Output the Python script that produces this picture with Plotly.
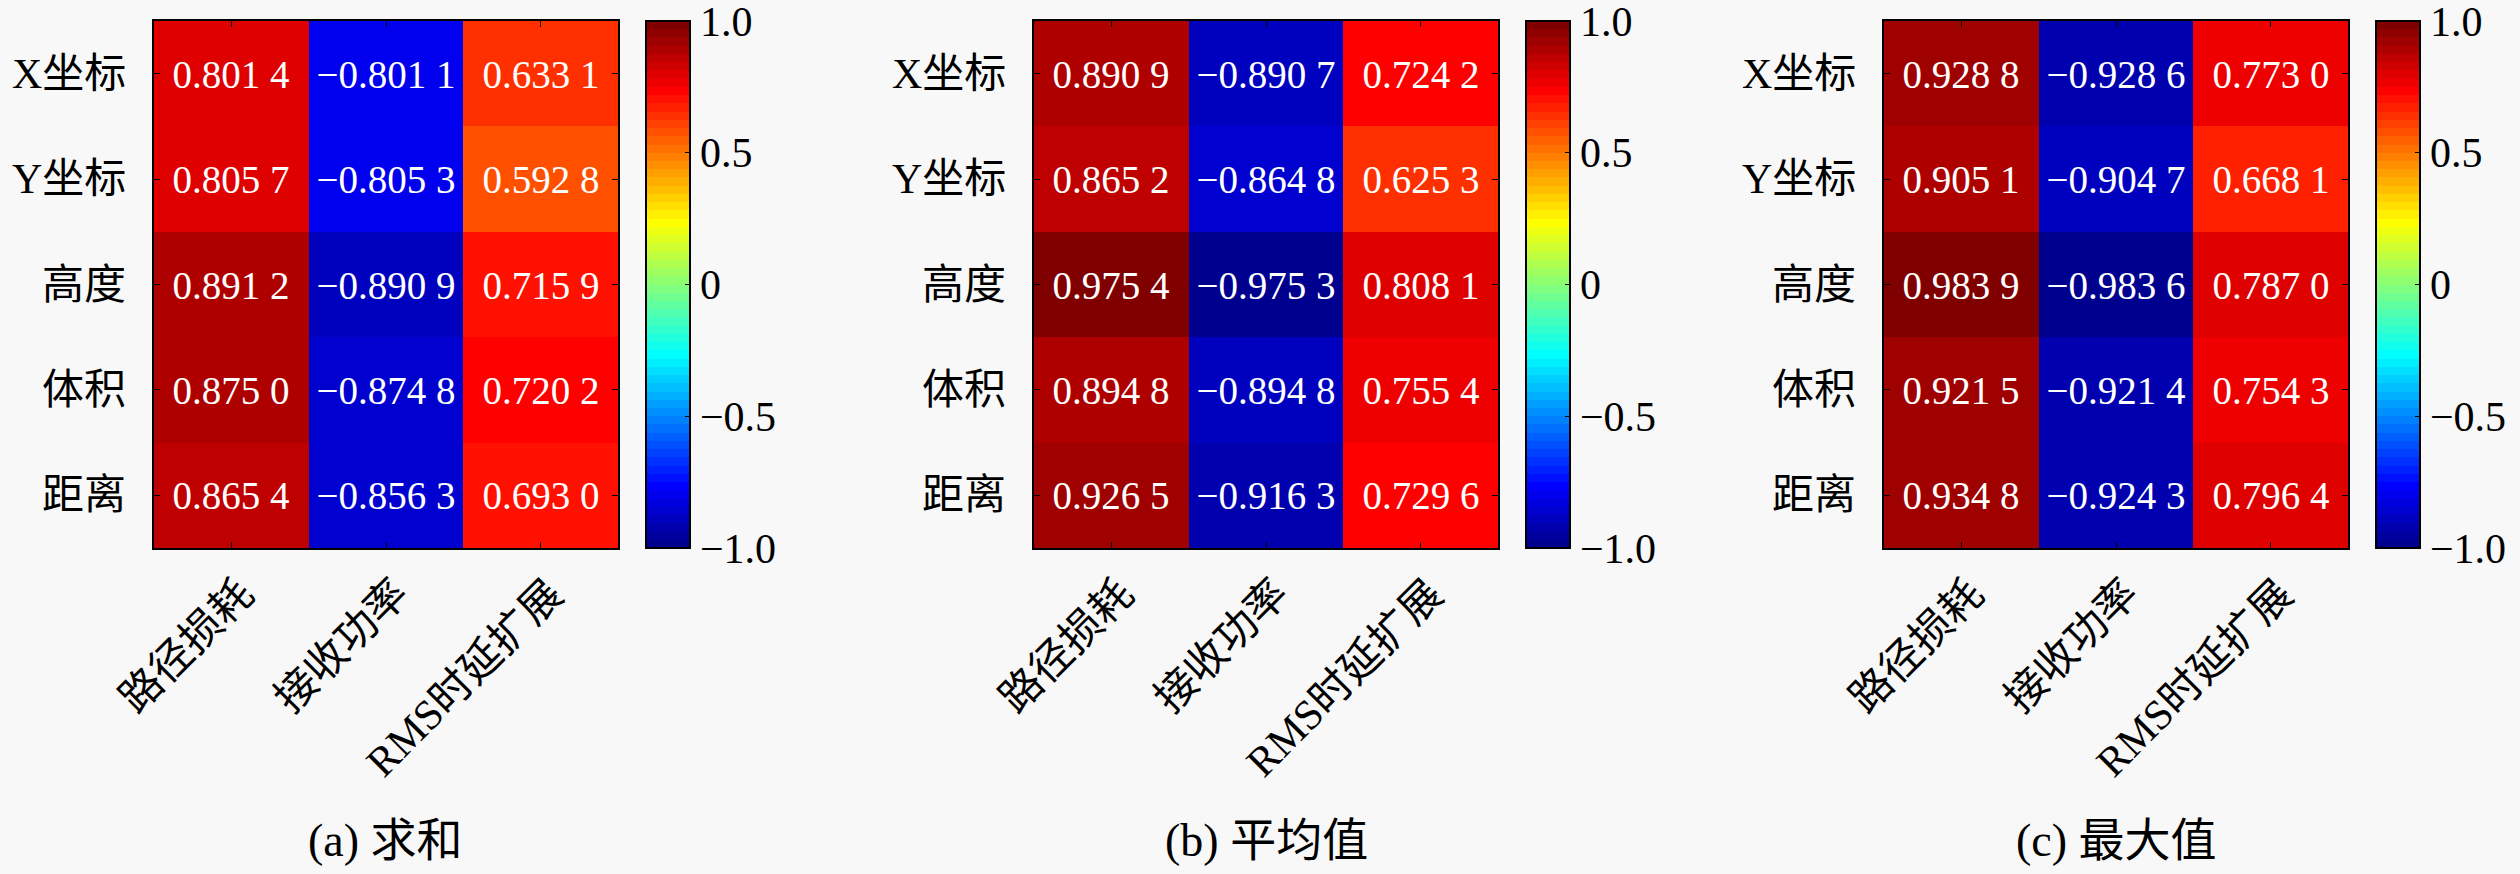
import math
import plotly.graph_objects as go
from plotly.subplots import make_subplots

rows = ["X坐标", "Y坐标", "高度", "体积", "距离"]
cols = ["路径损耗", "接收功率", "RMS时延扩展"]

sum_vals = [
    [0.8014, -0.8011, 0.6331],
    [0.8057, -0.8053, 0.5928],
    [0.8912, -0.8909, 0.7159],
    [0.8750, -0.8748, 0.7202],
    [0.8654, -0.8563, 0.6930],
]
mean_vals = [
    [0.8909, -0.8907, 0.7242],
    [0.8652, -0.8648, 0.6253],
    [0.9754, -0.9753, 0.8081],
    [0.8948, -0.8948, 0.7554],
    [0.9265, -0.9163, 0.7296],
]
max_vals = [
    [0.9288, -0.9286, 0.7730],
    [0.9051, -0.9047, 0.6681],
    [0.9839, -0.9836, 0.7870],
    [0.9215, -0.9214, 0.7543],
    [0.9348, -0.9243, 0.7964],
]
subtitles = ["(a) 求和", "(b) 平均值", "(c) 最大值"]

cbar_vals = [1.0, 0.5, 0, -0.5, -1.0]
cbar_text = ["1.0", "0.5", "0", "\u22120.5", "\u22121.0"]


def jet(m=64):
    # matlab style jet(m)
    n = math.ceil(m / 4)
    u = [i / n for i in range(1, n + 1)] + [1.0] * (n - 1) + [i / n for i in range(n, 0, -1)]
    g0 = math.ceil(n / 2) - (1 if m % 4 == 1 else 0)
    cmap = [[0.0, 0.0, 0.0] for _ in range(m)]
    for k in range(len(u)):
        g = g0 + k + 1
        for ch, idx in ((0, g + n), (1, g), (2, g - n)):
            if 1 <= idx <= m:
                cmap[idx - 1][ch] = u[k]
    return cmap


def stepped_scale(cmap):
    m = len(cmap)
    scale = []
    for i, c in enumerate(cmap):
        col = "rgb(%d,%d,%d)" % tuple(round(v * 255) for v in c)
        scale.append([i / m, col])
        scale.append([(i + 1) / m, col])
    return scale


def fmt(v):
    s = "%.4f" % abs(v)
    s = s[:-1] + " " + s[-1]
    return ("\u2212" + s) if v < 0 else s


serif = "Liberation Serif, DejaVu Serif, Noto Sans CJK SC, serif"
colorscale = stepped_scale(jet(64))

W, H = 2520, 874
heat_left = [154, 1034, 1884]
heat_w = 464
top_px, bot_px = 21, 548
cbar_gap = 28

fig = make_subplots(rows=1, cols=3)

for i, vals in enumerate([sum_vals, mean_vals, max_vals]):
    x0 = heat_left[i] / W
    x1 = (heat_left[i] + heat_w) / W
    fig.add_trace(go.Heatmap(
        z=vals, x=cols, y=rows,
        text=[[fmt(v) for v in r] for r in vals],
        texttemplate="%{text}",
        textfont=dict(family=serif, size=39, color="white"),
        colorscale=colorscale, zmin=-1, zmax=1,
        colorbar=dict(
            x=(heat_left[i] + heat_w + cbar_gap) / W, xanchor="left", xpad=0,
            y=1 - bot_px / H, yanchor="bottom", ypad=0,
            len=(bot_px - top_px) / H, lenmode="fraction",
            thickness=44, outlinewidth=2, outlinecolor="black",
            tickvals=cbar_vals, ticktext=cbar_text, ticklabeloverflow="allow",
            ticks="inside", ticklen=6, tickcolor="black",
            tickfont=dict(family=serif, size=42, color="black"),
        ),
    ), row=1, col=i + 1)

    ax = "" if i == 0 else str(i + 1)
    fig.layout["xaxis" + ax].update(
        domain=[x0, x1], type="category", categoryorder="array", categoryarray=cols,
        range=[-0.5, len(cols) - 0.5],
        showline=True, linecolor="black", linewidth=2, mirror="ticks",
        ticks="inside", ticklen=6, tickcolor="black", showticklabels=False,
        automargin=False,
    )
    fig.layout["yaxis" + ax].update(
        domain=[1 - bot_px / H, 1 - top_px / H], type="category",
        categoryorder="array", categoryarray=rows, range=[len(rows) - 0.5, -0.5],
        showline=True, linecolor="black", linewidth=2, mirror="ticks",
        ticks="inside", ticklen=6, tickcolor="black", showticklabels=False,
        automargin=False,
    )
    # row labels left of the frame
    for k, r in enumerate(rows):
        fig.add_annotation(
            text=r, x=x0, xref="paper", y=k, yref="y" + ax,
            xanchor="right", yanchor="middle", xshift=-26, showarrow=False,
            font=dict(family=serif, size=42, color="black"),
        )
    # rotated column labels, right end sitting at the tick
    for j, c in enumerate(cols):
        fig.add_annotation(
            text=c, x=j, xref="x" + ax, y=1 - bot_px / H, yref="paper",
            textangle=-45, xanchor="right", yanchor="top",
            xshift=34, yshift=-20, showarrow=False,
            font=dict(family=serif, size=42, color="black"),
        )
    fig.add_annotation(
        text=subtitles[i], x=(x0 + x1) / 2, y=1 - 840 / H, xref="paper", yref="paper",
        showarrow=False, xanchor="center", yanchor="middle",
        font=dict(family=serif, size=46, color="black"),
    )

fig.update_layout(
    width=W, height=H,
    margin=dict(l=0, r=0, t=0, b=0),
    paper_bgcolor="#f8f8f8", plot_bgcolor="#f8f8f8",
    showlegend=False,
)

fig.write_html("out.html", config={"displayModeBar": False},
               post_script="document.body.style.margin='0px';")
